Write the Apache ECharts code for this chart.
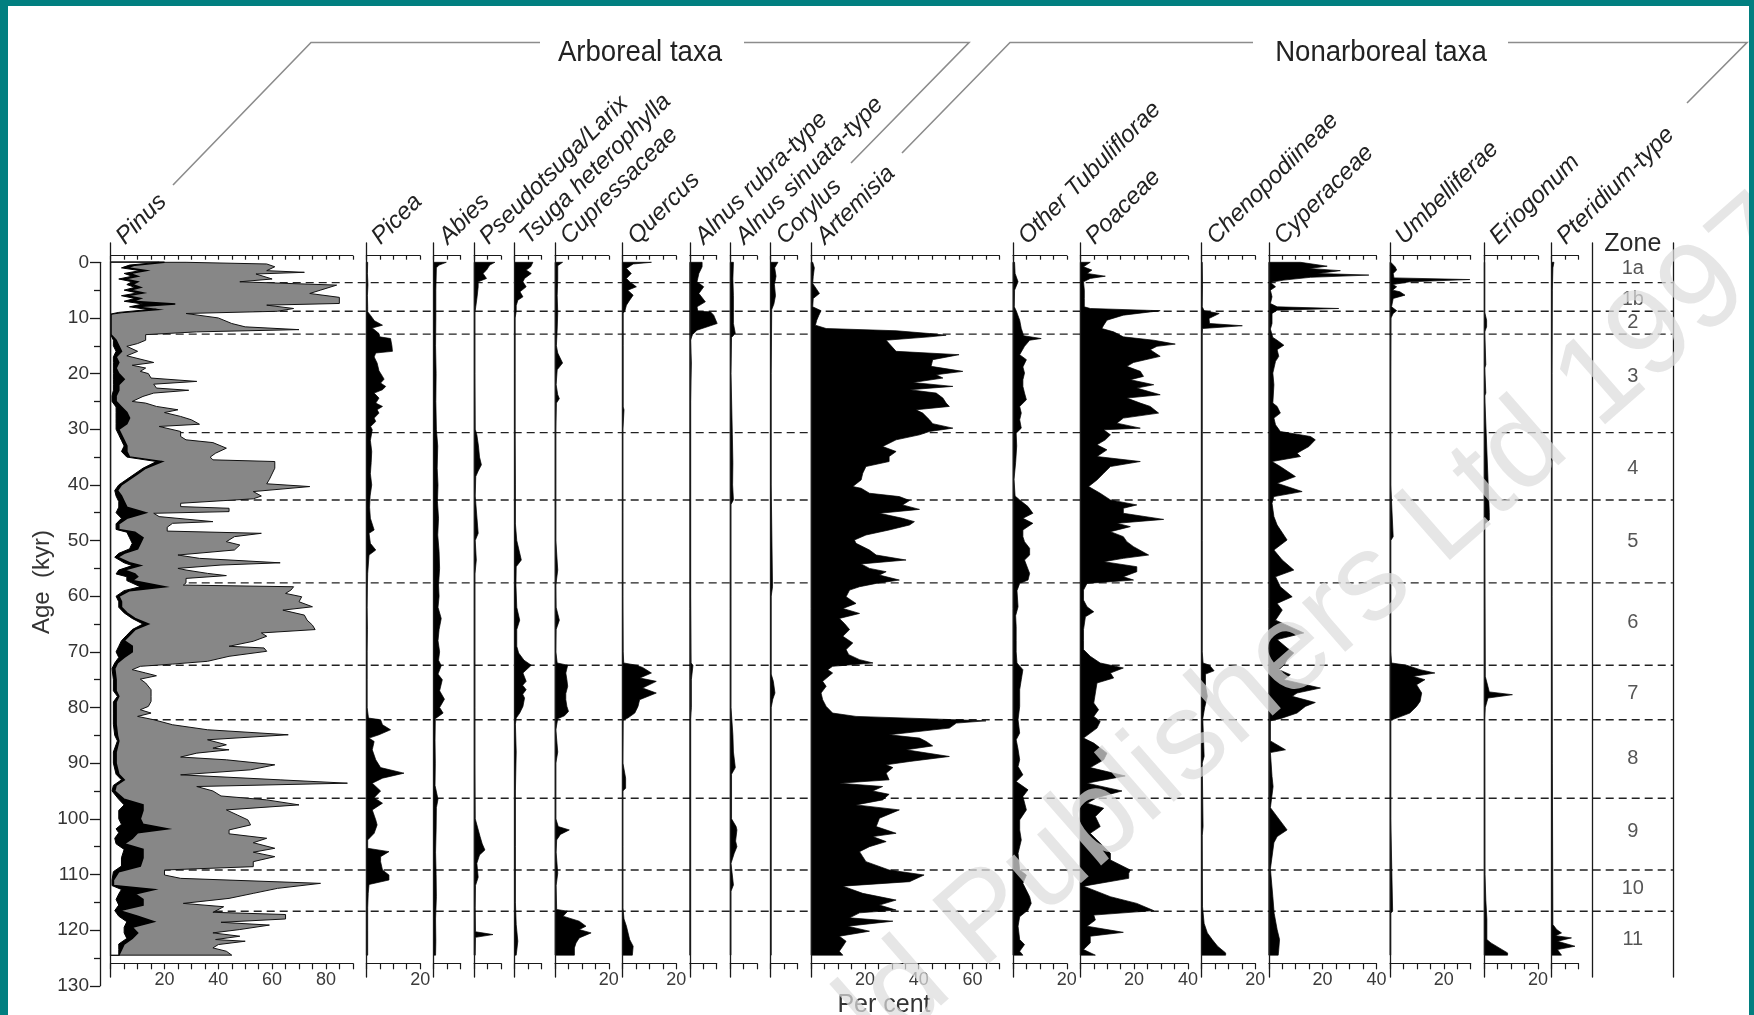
<!DOCTYPE html>
<html>
<head>
<meta charset="utf-8">
<script src="https://cdn.jsdelivr.net/npm/echarts@6/dist/echarts.min.js"></script>
<style>
  html, body { margin: 0; padding: 0; background: #017f80; }
  #paper { position: absolute; left: 8px; top: 6px; width: 1741px; height: 1009px; background: #fff; }
  #chart { position: absolute; left: 0; top: 0; width: 1754px; height: 1015px; }
</style>
</head>
<body>
<div id="paper"></div>
<div id="chart"></div>
<script>
// taxa, their axis maxima (%) and the bottom tick labels
const taxa = ['Pinus', 'Picea', 'Abies', 'Pseudotsuga/Larix', 'Tsuga heterophylla', 'Cupressaceae', 'Quercus',
  'Alnus rubra-type', 'Alnus sinuata-type', 'Corylus', 'Artemisia', 'Other Tubuliflorae', 'Poaceae',
  'Chenopodiineae', 'Cyperaceae', 'Umbelliferae', 'Eriogonum', 'Pteridium-type'];
const taxaMax = [90, 20, 10, 10, 10, 20, 20, 10, 10, 10, 70, 20, 40, 20, 40, 30, 20, 10];
const bottomLabels = [[20, 40, 60, 80], [20], [], [], [], [20], [20], [], [], [], [20, 40, 60], [20], [20, 40], [20], [20, 40], [20], [20], []];

const zoneBounds = [3.65, 8.8, 12.9, 30.6, 42.7, 57.6, 72.4, 82.2, 96.3, 109.2, 116.6];
const zoneNames = ['1a', '1b', '2', '3', '4', '5', '6', '7', '8', '9', '10', '11'];
const zoneLabelAges = [1.2, 6.6, 10.9, 20.6, 37, 50.1, 64.8, 77.4, 89.1, 102.2, 112.5, 121.6];

// [age kyr, per cent]
const pinusOuter = [[0,28],[0.3,58],[0.8,61],[1.5,58],[1.8,72],[2.1,54],[3,60],[3.5,48],[4.1,84],[5,78],[5.6,74],[6.3,85],[7.4,85],[7.7,58],[8.3,68],[8.8,62],[9.2,28],[10,40],[11,45],[11.6,50],[12.1,70],[12.5,32],[13,13],[14,13],[14.6,10],[15.1,6],[16,10],[16.8,6],[18,16],[18.5,8],[19,13],[19.6,11],[20,14],[20.8,15],[21.4,32],[21.9,16],[22.6,17],[23,29],[23.5,16],[24.1,12],[25,8],[25.3,13],[25.9,17],[26.5,25],[27,20],[27.7,26],[28.3,30],[29.1,33],[29.5,18],[30.4,26],[31.3,26],[31.9,28],[32.4,38],[33.4,43],[34.3,39],[35,37],[35.5,38],[35.8,61],[37,61],[39,59],[39.8,58],[40.3,74],[41.2,53],[42,56],[42.5,53],[43.3,26],[43.9,26],[44.2,44],[44.8,44],[45.1,16],[45.7,18],[46.6,38],[46.9,23],[47.6,21],[48.3,21],[48.7,56],[49.3,46],[50.2,43],[50.8,48],[51.7,46],[52.6,25],[53.2,33],[54,63],[54.4,41],[55,25],[55.3,28],[55.9,36],[56.3,43],[56.8,28],[57.6,28],[58,27],[58.3,68],[58.9,67],[59.5,65],[60.1,71],[61,70],[61.9,75],[62.5,64],[63.4,72],[64.3,73],[65.2,75],[66,76],[66.6,56],[67.2,58],[68.1,53],[69,44],[69.3,57],[69.9,58],[70.8,44],[71.7,36],[72.2,23],[72.6,11],[73.2,8],[73.8,13],[74.3,17],[74.9,11],[75.6,13],[76.8,15],[78,15],[78.9,15],[79.8,14],[80.4,11],[81,15],[81.6,10],[82.2,16],[83.1,23],[84,36],[84.9,66],[85.8,36],[86.7,43],[87.3,38],[87.6,44],[88.2,32],[88.9,26],[89.4,43],[90.3,61],[91.2,52],[92.1,26],[93,63],[93.6,88],[94.2,32],[95,38],[95.9,41],[96.6,58],[97.5,70],[98.4,43],[99.3,47],[100.2,51],[101.1,52],[102,44],[102.7,44],[103.5,58],[104.3,53],[105.3,61],[106,53],[106.8,61],[107.7,53],[108.6,53],[109.2,20],[110.1,20],[110.7,26],[111.6,78],[112.5,62],[113.4,53],[114.3,44],[115.2,27],[115.8,42],[116.8,38],[117.2,65],[118,65],[118.6,41],[119.1,59],[119.9,48],[120.5,38],[121.1,48],[121.7,39],[122,50],[122.6,40],[123.2,38],[123.8,43],[124.5,45]];
const pinusDark = [[0,20],[0.5,9],[1,6],[1.5,13],[2,7],[2.5,10],[3,5],[3.5,10],[4,8],[4.5,11],[5,7],[5.5,12],[6,6],[6.5,11],[7,8],[7.5,24],[8,9],[8.5,17],[9,4],[9.3,0],[13,0],[13.5,1],[14,2],[15,3],[16,4],[17,2],[18,3],[19,2],[20,3],[21,5],[22,3],[23,3],[24,2],[25,2],[26,4],[27,6],[28,7],[29,6],[30,3],[31,4],[32,5],[33,6],[34,6],[35,7],[35.8,19],[37,13],[38,10],[39,7],[40,4],[41,2.5],[42,4],[43,5],[44,6],[45,13],[46,6],[47,3],[48,3],[48.5,9],[49.5,12],[50.5,11],[51.5,10],[52.3,5],[53,2.5],[54,7],[54.5,11],[55.3,5],[56,9],[56.5,10],[57.2,8],[58.3,20],[59,7],[60,3],[61,4],[62,4],[63,6],[64,9],[65,14],[66,9],[67,7],[68,5],[69,8],[70,8],[71,5],[72,2.5],[73,1.5],[75,2],[77,2],[78,3],[79,2],[81,2],[83,2],[85,2.5],[86,3],[88,2],[90,2],[92,3],[93,5],[94,2],[95,1.5],[96.5,5],[97.5,12],[98.5,12],[100,11],[101,12],[101.8,21],[102.5,10],[103.5,8],[104.5,5],[105.5,12],[107,12],[108.5,11],[109.5,3],[111,1],[112,1],[112.7,16],[113.5,9],[114.5,12],[115.5,12],[116.5,3],[117.5,10],[118.5,16],[119.5,8],[120.5,10],[121.5,8],[122.5,5],[123.5,4],[124.5,3]];
const pinusGap = [[0,18],[0.5,7],[1,4],[1.5,11],[2,5],[2.5,8],[3,3],[3.5,8],[4,6],[4.5,9],[5,5],[5.5,10],[6,4],[6.5,9],[7,5],[7.5,12],[8,7],[8.5,14],[9,3],[9.3,0],[13,0],[14,1],[15,1],[16,2],[17,1],[18,1],[19,1],[20,1],[21,1],[22,1],[23,1],[24,0.5],[25,0.5],[26,2],[27,2],[28,2],[29,2],[30,2],[31,3],[32,4],[33,5],[34,4],[35,6],[35.8,17],[37,12],[38,9],[39,6],[40,3],[41,1.5],[42,2],[43,3],[44,3],[45,2],[46,4],[47,2],[48,2],[48.5,6],[49.5,7],[50.5,8],[51.5,7],[52.3,3],[53,1.5],[54,5],[54.5,8],[55.3,3],[56,2],[56.5,6],[57.2,6],[58.3,11],[59,5],[60,2],[61,3],[62,3],[63,5],[64,8],[65,12],[66,8],[67,6],[68,4],[69,3],[70,2],[71,3],[72,1.5],[73,0.5],[75,1],[77,1],[78,2.5],[79,1],[81,1],[83,1],[85,1.5],[86,2.5],[88,1],[90,1],[92,2],[93,4],[94,1],[95,0.5],[96.5,3],[97.5,5],[98.5,3],[100,3],[101,4],[101.8,2],[102.5,3],[103.5,1.5],[104.5,2],[105.5,5],[107,4],[108.5,4],[109.5,1],[111,0.5],[112,0.5],[112.7,4],[113.5,3],[114.5,2],[115.5,3],[116.5,1.5],[117.5,3],[118.5,6],[119.5,5],[120.5,5],[121.5,6],[122.5,3],[123.5,3],[124.5,3]];
const picea = [[0,0.5],[2,0.4],[4,0.6],[6,0.4],[8,0.5],[8.9,0.5],[9.5,1.5],[10.5,3],[11.3,6],[11.8,2.2],[12.8,4.7],[13.4,5],[13.7,9],[15,9.5],[16,9.7],[16.3,3.5],[17,2.9],[18.1,4],[19.5,4.7],[20.5,6],[21,6.6],[21.7,5.3],[22.3,7.2],[22.9,6],[23.5,2.9],[24.4,4.7],[25.3,3.5],[25.9,6],[26.5,4],[27.1,4.7],[28,2.9],[28.6,3.5],[29.5,1.6],[30.1,2.2],[32,1.5],[34,2],[36,1.8],[38,1.5],[40,2],[42,1.4],[44,1.2],[46,1.5],[48.1,2.9],[48.7,1],[50.5,1.5],[51.7,3.5],[52.6,1],[55.9,0.5],[58,0.4],[62,0.3],[66,0.4],[70,0.3],[75,0.3],[80,0.3],[81.9,0.8],[82.2,5.3],[83.1,6],[84,9],[84.9,4.7],[85.5,1],[86.1,2.9],[87.6,2.2],[89.4,3.5],[90.8,5.3],[91.8,14],[92.7,6],[93.6,2.2],[95,5.3],[96.2,2.9],[97.2,6],[98.4,2.2],[100.2,3.5],[101.1,4],[102.6,2.9],[103.8,0.5],[105.3,0.5],[105.9,8.4],[106.8,5.3],[107.7,5.3],[109.2,6],[110.1,8.4],[111,8.4],[111.8,1],[113.4,0.7],[116,0.5],[120,0.5],[124.5,0.5]];
const abies = [[0,4.7],[0.5,2],[1,1],[5,0.8],[10,0.8],[15,0.7],[20,0.9],[25,0.8],[30,1],[33,1.5],[37,1.3],[40,1.6],[43,1.4],[46,1.8],[49,1.5],[52,2],[55,2.2],[58,1.8],[60,2],[62,1.6],[64,2.8],[66,2],[68,1.6],[70,2.2],[71.5,1.8],[72.5,2.8],[74,1.6],[75,3.2],[77,2.2],[78.5,4],[80,2.2],[81,3.5],[82,0.6],[86,0.5],[90,0.6],[94,0.5],[96.5,1.6],[98,1],[102,0.9],[106,0.7],[110,0.9],[114,1],[118,0.7],[122,0.8],[124.5,0.7]];
const pseudotsuga = [[0,7.7],[0.5,5.8],[1.4,4.6],[2,3.3],[2.9,4.6],[3.5,1.5],[4.4,1.5],[6.2,1.1],[8,0.6],[9,0.3],[20,0.3],[30,0.4],[31,1],[33,1.6],[35,2],[36.4,2.7],[37.5,1.5],[38.5,0.6],[42,0.4],[48.7,1.5],[50,0.4],[53.5,0.8],[56,0.3],[70,0.3],[80,0.3],[90,0.3],[100,0.4],[103.2,2.2],[104.5,3],[105.6,4],[106.5,2],[108,1],[110.5,1.5],[112,0.5],[116,0.4],[120.3,0.5],[120.8,7],[121.3,0.5],[124.5,0.4]];
const tsuga = [[0,6.8],[0.8,6],[1.4,4.3],[2,6.2],[2.9,3.7],[3.5,3.1],[4.4,4.3],[5.3,2],[6.2,3.1],[6.8,1.2],[7.8,0.6],[8.8,0.6],[10,0.2],[20,0.2],[30,0.2],[40,0.3],[47,0.3],[50,0.8],[53.5,2.5],[54.7,0.6],[58,0.5],[62,0.8],[64.3,1.9],[66,0.8],[69,0.8],[70.2,1.5],[71.5,3.5],[72.4,6.2],[73.8,3.1],[75.3,4.3],[76,3],[76.8,4.3],[77.6,3],[78.3,3.7],[79.8,3.1],[81,1.9],[81.9,0.6],[83,0.3],[88,0.6],[95,0.3],[105,0.3],[115,0.3],[119,0.6],[122,1.2],[124.5,0.6]];
const cupressaceae = [[0,2.8],[0.6,1],[3,1],[6,0.8],[9,1],[12,0.8],[15,0.5],[16.3,1],[18.1,2.8],[19.3,0.8],[22,0.4],[23.8,1],[24.5,1.6],[25.3,0.5],[30,0.3],[40,0.3],[50,0.3],[55.3,1],[58,0.3],[62,0.4],[64.3,1.6],[66,0.4],[70,0.3],[72,0.8],[72.4,4.7],[73.8,4],[75,4.4],[76.2,4.7],[77.5,4],[78.6,4],[79.8,4.4],[80.7,5],[81.5,3.5],[82,1],[84,0.3],[88,1],[90,0.3],[100,0.3],[101.4,1.2],[102,5.3],[102.8,2],[103.8,0.6],[106,0.4],[109.8,1],[112,0.4],[116.3,0.6],[116.6,4.7],[117.5,3],[118.4,9],[119.3,11.5],[119.9,9],[120.5,13.4],[121.4,9],[122.3,7.8],[123.2,7.2],[124.5,7.2]];
const quercus = [[0,10.8],[0.3,4],[1.1,1.5],[2,3.3],[2.9,1.5],[3.5,2.7],[4.4,5.2],[5,2],[5.9,4],[6.8,2.7],[7.7,1.5],[8.6,1],[9.2,0.3],[15,0.3],[26,0.3],[26.5,0.6],[30,0.2],[45,0.2],[60,0.2],[70,0.3],[72,0.5],[72.4,5.2],[72.8,7.5],[73.8,10.8],[74.7,6.5],[75.3,12.6],[76.5,7.5],[77.4,12.6],[78.6,6.4],[79.8,5.8],[81,4.6],[81.9,2],[82.3,0.3],[90,0.2],[92.7,1.2],[94.5,1.2],[95,0.2],[105,0.2],[116,0.2],[118,0.6],[119.3,1.5],[121.7,2.7],[122.9,4],[124.5,3.7]];
const alnusRubra = [[0,4.6],[0.8,4.6],[2,3.4],[3.5,2.7],[4.4,5.2],[5.6,3.4],[7.1,5.8],[8,2.7],[8.8,3],[8.9,7.7],[9.5,8.9],[11,10.2],[11.4,7.7],[12.2,2.7],[13,1],[14,0.3],[18.1,0.6],[25,0.3],[40,0.3],[60,0.3],[72,0.5],[72.4,1.2],[75,0.6],[80,0.6],[82,0.3],[100,0.3],[124.5,0.3]];
const alnusSinuata = [[0,1.2],[3,1],[6,1.2],[9,1.2],[11,1.2],[12.8,1.9],[13.5,0.5],[20,0.3],[31,0.8],[36,1],[40,0.9],[42.7,1.2],[43.5,0.3],[60,0.3],[80,0.3],[84.9,1],[88,1.2],[90.8,1.9],[92,0.5],[100,0.5],[101.4,2.2],[102,2.5],[104,2],[105,2.5],[106.2,1.5],[108,0.3],[111.9,1.2],[113,0.3],[124.5,0.3]];
const corylus = [[0,2.7],[1,1.5],[2.5,2],[4,1.4],[6,1.8],[7.5,1.2],[8.5,0.4],[20,0.2],[40,0.2],[58.3,0.7],[60,0.2],[74,0.2],[75.3,1],[77.4,1.6],[78.5,0.8],[80,0.2],[124.5,0.2]];
const artemisia = [[0,0.6],[1,1.2],[2.5,0.8],[3.8,0.6],[5.6,3.1],[6.5,0.8],[8,0.6],[8.7,3.7],[9.5,2.9],[10.4,2.1],[11.3,1.6],[11.9,5.6],[12.3,31.6],[12.8,44],[13.1,50.2],[13.4,44],[14,27.9],[14.6,29],[16,31.6],[16.6,55],[17.5,45.2],[18.7,44.6],[19.6,56.4],[20.2,46.5],[20.8,49],[21.6,37.8],[22.3,52.7],[22.9,36.6],[23.5,46.5],[24.4,49],[25.3,50.2],[25.9,51.4],[26.5,39],[27.1,41.5],[28.3,44],[29,45.2],[29.8,52.7],[30.4,44],[31,40.3],[31.9,31.6],[33.1,26.6],[34,31.6],[34.9,29],[35.8,29],[36.7,20.4],[37.9,19.2],[39.1,18.6],[40.3,15.5],[40.6,18.6],[41.5,21.7],[42.1,32.8],[42.8,36.6],[43.6,34],[44.4,40.3],[45.1,25.4],[46,34],[46.6,38.4],[47.2,36.6],[48.1,29],[49,20.4],[49.9,16.1],[50.5,16.7],[51.7,21.7],[52.6,24.2],[53.5,35.3],[54.2,18.6],[55,21.7],[55.6,27.9],[56.2,25.4],[57.1,32.8],[57.7,24.2],[58.3,18],[58.9,14.3],[60.1,13],[61.3,16.7],[62.2,11.8],[63.1,18],[64,10.5],[64.9,12.4],[66,14.3],[67.2,11.8],[68.4,15.5],[69.6,13],[70.5,14],[71.4,18],[72,23],[72.6,8],[73.2,6.2],[73.8,8],[75.3,4.3],[76.2,5.6],[77.4,3.7],[78.6,4.3],[79.8,5.6],[81,8],[81.6,16.7],[82.1,47.7],[82.4,65],[82.8,54],[83.7,51.4],[84.9,29],[85.5,40.3],[86.1,42.8],[86.9,45.2],[87.6,35.3],[88.8,51.4],[89.7,36.6],[90.3,27.9],[90.8,30.4],[91.8,27.9],[93,29],[93.6,10.5],[94.2,26.6],[95,22.9],[95.6,29],[96.6,26.6],[97.5,16.7],[98.4,32.8],[99.9,25.4],[101.4,24.2],[102.6,31.6],[103.2,22.9],[104.1,27.9],[105,21.7],[105.9,18],[106.8,19.2],[107.7,20.4],[109.2,29],[110.1,42],[111.3,36.6],[112.1,11.8],[113.4,19.2],[114.6,31.6],[115.5,25.4],[116.4,31.6],[116.9,18],[117.8,14.3],[118.4,30.4],[119.3,13.6],[120.2,21.7],[121.1,10.5],[122,13],[122.9,11.8],[123.8,10.5],[124.5,11.8]];
const otherTubuliflorae = [[0,0.6],[2,0.8],[3.5,1.9],[5,0.6],[8,0.5],[8.7,1.2],[10.4,2.5],[11.9,3.1],[13.2,4],[13.7,10.5],[14,6.2],[15.1,4.3],[16.6,2.5],[17.5,5],[18.8,3.7],[19.9,4.3],[21.1,3.7],[22.3,3.7],[23.5,4.3],[24.7,5],[25.9,2.5],[27.1,3.1],[28.3,2.5],[29.8,3.1],[30.7,1.2],[33,1.4],[36,1],[39,0.4],[42,0.8],[42.7,2.5],[43.9,5.6],[45.1,7.4],[46,3.7],[46.9,7.4],[48.1,3.7],[49.3,3.7],[50.2,4.3],[51.4,6.2],[52.6,6.2],[53.5,4.3],[55.9,6.2],[57.1,5.6],[57.7,2.5],[59,1.5],[61.9,1.9],[63.5,1],[65.5,1.2],[68,1.2],[70,1.2],[72,1.5],[73.2,3.7],[75,3.1],[76.8,2.5],[79.8,2.5],[82.2,1.9],[84.6,2.5],[85.8,1.2],[87.5,1.9],[89.4,2.5],[90.6,1.9],[92.1,3.7],[93.3,1.2],[94.8,5.6],[96,3.7],[98.4,5],[100.2,2.5],[102,2.5],[103.8,3.1],[106.2,1.9],[109.2,2.5],[110.1,5],[111.6,3.7],[114,6.2],[115.2,6.8],[116.4,5.6],[117.6,2.5],[119.3,1.9],[121.7,2.5],[122.6,4.3],[123.8,2.5],[124.5,3.7]];
const poaceae = [[0,3.7],[0.8,1.2],[1.4,4.3],[2,2.5],[2.5,9.3],[2.9,3.7],[3.5,1.2],[5,1.5],[6.5,1.5],[8,1.5],[8.3,3.7],[8.7,29.7],[9.5,16],[10.4,9.9],[11.3,8.7],[11.9,8],[12.5,12.4],[13.4,16],[14,27.3],[14.7,35.3],[15.1,28.5],[15.7,26],[16.9,29.7],[18,19.8],[18.7,17.3],[19.6,22.3],[20.5,23.5],[21.1,18.6],[22,27.3],[22.6,21],[23.8,29.7],[24.4,17.3],[25.3,22.3],[25.9,26],[27.1,29.1],[28,16],[28.9,13.6],[29.8,22.3],[30.1,8.7],[31,11.2],[31.9,9.3],[32.8,6.2],[33.7,9.9],[34.9,6.2],[35.8,22.3],[36.7,11.2],[37.9,8.7],[39.1,6.2],[40.3,3.1],[41.5,7.4],[42.7,11.2],[43.6,21],[44.2,16],[45.1,16],[46.2,31],[46.9,13.6],[47.5,18.6],[48.4,11.2],[49.3,16],[50.2,17.3],[51.1,19.8],[52.6,25.4],[53.2,16],[53.8,8.7],[54.7,21],[55.6,21],[56.5,16],[57.1,19.8],[57.7,2.5],[58.9,1.2],[60.7,1.2],[61.9,2.5],[62.8,5],[63.7,1.9],[66,1.2],[68,1.2],[69.6,1.2],[70.8,3.7],[72,7.4],[72.9,16],[73.8,11.2],[74.7,12.4],[75.6,6.2],[77.4,5.6],[79.2,5],[80.4,6.8],[81.6,5],[82.5,7.4],[83.7,6.2],[85.5,1.2],[86.4,5],[88.2,9.9],[89.4,8.7],[90.8,3.7],[92.3,16.7],[93.6,2.5],[95,15.5],[96.2,6.2],[97.2,2.5],[98.1,8.7],[99.6,5.6],[101.4,7.4],[102.6,3.7],[103.8,6.2],[106.2,11.2],[107.4,11.2],[109.2,18.6],[109.8,18],[110.7,18],[112.1,1.2],[114,11.2],[115.2,21],[116.5,27.3],[117.3,5],[118.2,5.6],[119.3,2.5],[120.4,16],[121.1,3.7],[122.3,3.7],[123.5,1.2],[124.5,5.6]];
const chenopodiineae = [[0,0.3],[4,0.4],[8,0.3],[8.7,1],[9.2,6.6],[10.1,2.8],[11,3],[11.4,15.2],[11.9,0.4],[13,0.3],[30,0.3],[50,0.3],[70,0.3],[72,0.6],[72.4,3],[73.4,4.7],[74,1.5],[76,1.5],[78,2.2],[80,1.2],[82,0.5],[88.8,1],[90,0.3],[101.4,0.6],[103,0.3],[115.8,0.4],[118.8,1],[120.5,2.2],[121.7,4],[122.9,6],[124.1,9],[124.5,9]];
const cyperaceae = [[0,11.8],[0.7,21.7],[1.1,14.9],[1.5,26.6],[2,18],[2.3,37.2],[2.7,15.5],[3.2,5.6],[3.6,0.6],[4.4,2.5],[5,0.6],[6.2,1.2],[7.4,0.6],[8,3.1],[8.3,26],[8.6,3.1],[9.2,1.2],[11,1.2],[12,0.6],[13.5,1.5],[14,3.1],[14.9,5.6],[15.7,3.1],[16.9,3.7],[17.8,2.5],[19.9,1.5],[22,1.9],[25.3,1.5],[25.9,3.1],[27.1,4.3],[28,1.9],[29.2,2.5],[30.4,4.3],[31.3,15.5],[31.9,17.3],[33.1,14.9],[34.3,10.5],[34.9,11.8],[35.8,1.2],[36.7,4.3],[38.5,9.9],[39.7,3.1],[41.2,12.4],[42.1,1.9],[43.3,1.2],[45.7,1.9],[47.2,3.1],[49.9,6.8],[51.7,1.9],[53.5,5],[55.3,9.3],[56.5,2.5],[58.3,4.3],[60.1,8.7],[61.3,3.1],[62.5,5],[64.3,2.5],[66.6,13],[67.8,3.1],[69.3,6.8],[70.2,9.3],[71.4,6.8],[72.4,5.6],[73.2,3.7],[74.1,8],[75,5.6],[76.5,19.2],[77.4,10.5],[78,8.7],[79.1,17.3],[79.8,13.6],[81,10.5],[82,4.3],[82.4,0.6],[86,0.6],[87.6,6.2],[88.1,0.6],[92.4,1.2],[94.2,1.6],[98,0.6],[102,6.8],[103.2,3.1],[104.3,1.9],[109,0.6],[114,1.5],[117,2],[119.9,3.1],[121.7,4],[123.5,3.7],[124.5,3.5]];
const umbelliferae = [[0,0.3],[0.8,1.9],[1.4,2.5],[2,1.2],[2.8,1.5],[3.1,29.7],[3.5,7.4],[4,1],[4.4,2.5],[5,1],[5.3,3.7],[5.9,5.6],[6.5,1.2],[8,0.6],[8.7,2.5],[9.2,1.2],[10,0.4],[20,0.3],[40,0.3],[49.3,1.2],[50,0.3],[70,0.3],[72,0.6],[72.4,6.2],[73.2,11.2],[73.8,16.7],[74.4,8.7],[75,13],[75.9,9.9],[77.4,11.8],[78.9,11.2],[79.8,9.9],[81,7.4],[81.9,2.5],[82.3,0.3],[100,0.3],[116.5,1],[117,0.3],[124.5,0.3]];
const eriogonum = [[0,0.2],[9,0.2],[10.4,0.9],[11.6,0.9],[12.5,0.2],[18.4,0.6],[19,0.2],[23.5,0.6],[24,0.2],[45,1.9],[46.3,1.9],[47,0.2],[72.6,0.4],[74.4,0.4],[77.2,1.9],[77.7,10.5],[78.3,1.4],[80,0.4],[82,0.2],[110,0.3],[114.6,0.6],[118,1],[121.7,1],[122.3,2.5],[123.2,5.6],[124.1,8.7],[124.5,8.7]];
const pteridium = [[0,0.9],[1,0.5],[5,0.3],[20,0.2],[60,0.2],[90,0.3],[119,0.5],[119.9,1.9],[120.5,3.7],[121,1.5],[121.4,7.4],[122,2.2],[122.9,8.7],[123.5,2.2],[124.5,3.7]];

const curves = [pinusOuter, picea, abies, pseudotsuga, tsuga, cupressaceae, quercus, alnusRubra, alnusSinuata,
  corylus, artemisia, otherTubuliflorae, poaceae, chenopodiineae, cyperaceae, umbelliferae, eriogonum, pteridium];

// layout (pixels)
const PX = 2.69, X0 = 110.7, GAP = 13.55;
const PT = 243, PB = 977, AXT = 255.7, AXB = 963.3;
const Y0 = 262.3, PXK = 5.565;
const ageTop = (PT - Y0) / PXK, ageBot = (PB - Y0) / PXK;
const FONT = '"Liberation Sans", Arial, sans-serif';
const INK = '#1a1a1a';

const bases = [];
let cx = X0;
taxaMax.forEach(m => { bases.push(cx); cx += m * PX + GAP; });
const zoneLeft = cx, zoneWidth = 81.6;

function areaPoints(api, arr) {
  const pts = [api.coord([0, arr[0][0]])];
  arr.forEach(d => pts.push(api.coord([d[1], d[0]])));
  pts.push(api.coord([0, arr[arr.length - 1][0]]));
  return pts;
}

const grid = [], xAxis = [], yAxis = [], series = [];

taxa.forEach((name, i) => {
  grid.push({left: bases[i], top: PT, width: taxaMax[i] * PX, height: PB - PT, containLabel: false, outerBoundsMode: 'none'});
  const common = {
    gridIndex: i, type: 'value', min: 0, max: taxaMax[i], interval: 5, z: 10,
    axisLine: {show: true, onZero: false, lineStyle: {color: INK, width: 1.2}},
    splitLine: {show: false}
  };
  xAxis.push(Object.assign({}, common, {
    position: 'top', offset: -(AXT - PT),
    axisTick: {show: true, inside: true, length: 4, lineStyle: {color: INK, width: 1.2}},
    axisLabel: {show: false}
  }));
  const labs = bottomLabels[i];
  xAxis.push(Object.assign({}, common, {
    position: 'bottom', offset: -(PB - AXB),
    axisTick: {show: true, inside: false, length: 6, lineStyle: {color: INK, width: 1.2}},
    axisLabel: {
      show: true, margin: 8, fontSize: 18, color: '#3a3a3a', fontFamily: FONT,
      showMinLabel: true, showMaxLabel: true,
      formatter: v => (labs.indexOf(v) >= 0 ? String(v) : '')
    }
  }));
  yAxis.push({
    gridIndex: i, type: 'value', inverse: true, min: ageTop, max: ageBot, z: 10,
    axisLine: {show: true, onZero: false, lineStyle: {color: INK, width: 1.3}},
    axisTick: {show: false}, axisLabel: {show: false}, splitLine: {show: false}
  });

  if (i === 0) {
    series.push({
      type: 'custom', xAxisIndex: 0, yAxisIndex: 0, data: pinusOuter, encode: {x: 1, y: 0}, silent: true, z: 2,
      renderItem: (params, api) => {
        if (params.dataIndex !== 0) return null;
        return {
          type: 'group', children: [
            {type: 'polygon', shape: {points: areaPoints(api, pinusOuter)}, style: {fill: '#878787', stroke: '#111', lineWidth: 1}},
            {type: 'polygon', shape: {points: areaPoints(api, pinusDark)}, style: {fill: '#000', stroke: '#000', lineWidth: 1.6}},
            {type: 'polygon', shape: {points: areaPoints(api, pinusGap)}, style: {fill: '#fff', stroke: '#000', lineWidth: 1}}
          ]
        };
      }
    });
  } else {
    const arr = curves[i];
    series.push({
      type: 'custom', xAxisIndex: 2 * i, yAxisIndex: i, data: arr, encode: {x: 1, y: 0}, silent: true, z: 2,
      renderItem: (params, api) => {
        if (params.dataIndex !== 0) return null;
        return {type: 'polygon', shape: {points: areaPoints(api, arr)}, style: {fill: '#000', stroke: '#000', lineWidth: 0.7}};
      }
    });
  }
});

// overlay grid for dashed zone boundaries
const gOv = taxa.length;
grid.push({left: X0, top: PT, width: zoneLeft + zoneWidth - X0, height: PB - PT, containLabel: false, outerBoundsMode: 'none'});
xAxis.push({gridIndex: gOv, type: 'value', min: 0, max: 1, show: false});
yAxis.push({gridIndex: gOv, type: 'value', inverse: true, min: ageTop, max: ageBot, show: false});
series.push({
  type: 'custom', xAxisIndex: xAxis.length - 1, yAxisIndex: yAxis.length - 1, silent: true, z: 1,
  data: zoneBounds.map(a => [a]), encode: {y: 0},
  renderItem: (params, api) => {
    const a = api.value(0);
    const p1 = api.coord([0, a]), p2 = api.coord([1, a]);
    return {type: 'line', shape: {x1: p1[0], y1: p1[1], x2: p2[0], y2: p2[1]},
      style: {stroke: '#222', lineWidth: 1.4, lineDash: [8, 5]}};
  }
});

// zone column
const gZ = gOv + 1;
grid.push({left: zoneLeft, top: PT, width: zoneWidth, height: PB - PT, containLabel: false, outerBoundsMode: 'none'});
xAxis.push({gridIndex: gZ, type: 'value', min: 0, max: 1, show: false});
['left', 'right'].forEach(pos => yAxis.push({
  gridIndex: gZ, type: 'value', inverse: true, min: ageTop, max: ageBot, position: pos, z: 10,
  axisLine: {show: true, onZero: false, lineStyle: {color: INK, width: 1.3}},
  axisTick: {show: false}, axisLabel: {show: false}, splitLine: {show: false}
}));
series.push({
  type: 'scatter', xAxisIndex: xAxis.length - 1, yAxisIndex: yAxis.length - 2, silent: true,
  symbolSize: 1, itemStyle: {color: 'rgba(0,0,0,0)'},
  data: zoneLabelAges.map((a, i) => ({name: zoneNames[i], value: [0.5, a]})),
  label: {show: true, position: 'inside', formatter: '{b}', fontSize: 20, color: '#2a2a2a', fontFamily: FONT}
});

// age axis
const gA = gZ + 1;
grid.push({left: 100, top: Y0, width: 5, height: 130 * PXK, containLabel: false, outerBoundsMode: 'none'});
xAxis.push({gridIndex: gA, type: 'value', min: 0, max: 1, show: false});
yAxis.push({
  gridIndex: gA, type: 'value', inverse: true, min: 0, max: 130, interval: 10, position: 'left',
  axisLine: {show: true, onZero: false, lineStyle: {color: INK, width: 1.3}},
  axisTick: {show: true, length: 10, lineStyle: {color: INK, width: 1.3}},
  minorTick: {show: true, splitNumber: 2, length: 6, lineStyle: {color: INK, width: 1.3}},
  axisLabel: {show: true, margin: 11, fontSize: 19, color: '#333', fontFamily: FONT},
  splitLine: {show: false}
});

// header and labels
const graphic = [];
const hdr = {stroke: '#8c8c8c', lineWidth: 1.6, fill: null};
graphic.push({type: 'polyline', shape: {points: [[173, 185], [311, 42.5], [540, 42.5]]}, style: hdr, silent: true});
graphic.push({type: 'polyline', shape: {points: [[744, 42.5], [969, 42.5], [851, 163]]}, style: hdr, silent: true});
graphic.push({type: 'polyline', shape: {points: [[902, 153], [1010, 42.5], [1253, 42.5]]}, style: hdr, silent: true});
graphic.push({type: 'polyline', shape: {points: [[1508, 42.5], [1747, 42.5], [1687, 103]]}, style: hdr, silent: true});
graphic.push({type: 'text', x: 640, y: 53, scaleX: 0.92, silent: true,
  style: {text: 'Arboreal taxa', font: '30px ' + FONT, fill: '#222', align: 'center', verticalAlign: 'middle'}});
graphic.push({type: 'text', x: 1381, y: 53, scaleX: 0.92, silent: true,
  style: {text: 'Nonarboreal taxa', font: '30px ' + FONT, fill: '#222', align: 'center', verticalAlign: 'middle'}});
taxa.forEach((name, i) => graphic.push({
  type: 'text', x: bases[i] + 18, y: 249, rotation: Math.PI / 4, silent: true,
  style: {text: name, font: 'italic 24px ' + FONT, fill: '#222', align: 'left', verticalAlign: 'bottom'}
}));
graphic.push({type: 'text', x: zoneLeft + zoneWidth / 2, y: 244, silent: true,
  style: {text: 'Zone', font: '25px ' + FONT, fill: '#2a2a2a', align: 'center', verticalAlign: 'middle'}});
graphic.push({type: 'text', x: 42, y: 582, rotation: Math.PI / 2, silent: true,
  style: {text: 'Age  (kyr)', font: '24px ' + FONT, fill: '#333', align: 'center', verticalAlign: 'middle'}});
graphic.push({type: 'text', x: 884, y: 1005, silent: true,
  style: {text: 'Per cent', font: '25px ' + FONT, fill: '#333', align: 'center', verticalAlign: 'middle'}});
// watermark
graphic.push({type: 'text', x: 1783, y: 223, rotation: 41.2 * Math.PI / 180, z: 50, silent: true,
  style: {text: '© Arnold Publishers Ltd 1997', font: '124px ' + FONT, fill: 'rgba(220,220,220,0.72)', align: 'right', verticalAlign: 'middle'}});
// frame
graphic.push({type: 'rect', shape: {x: 0, y: 0, width: 8, height: 1015}, style: {fill: '#017f80'}, z: 100, silent: true});
graphic.push({type: 'rect', shape: {x: 0, y: 0, width: 1754, height: 6}, style: {fill: '#017f80'}, z: 100, silent: true});
graphic.push({type: 'rect', shape: {x: 1749, y: 0, width: 5, height: 1015}, style: {fill: '#017f80'}, z: 100, silent: true});

const chart = echarts.init(document.getElementById('chart'), null, {renderer: 'canvas'});
chart.setOption({
  animation: false,
  backgroundColor: 'transparent',
  textStyle: {fontFamily: FONT},
  grid, xAxis, yAxis, series, graphic
});
</script>
</body>
</html>
